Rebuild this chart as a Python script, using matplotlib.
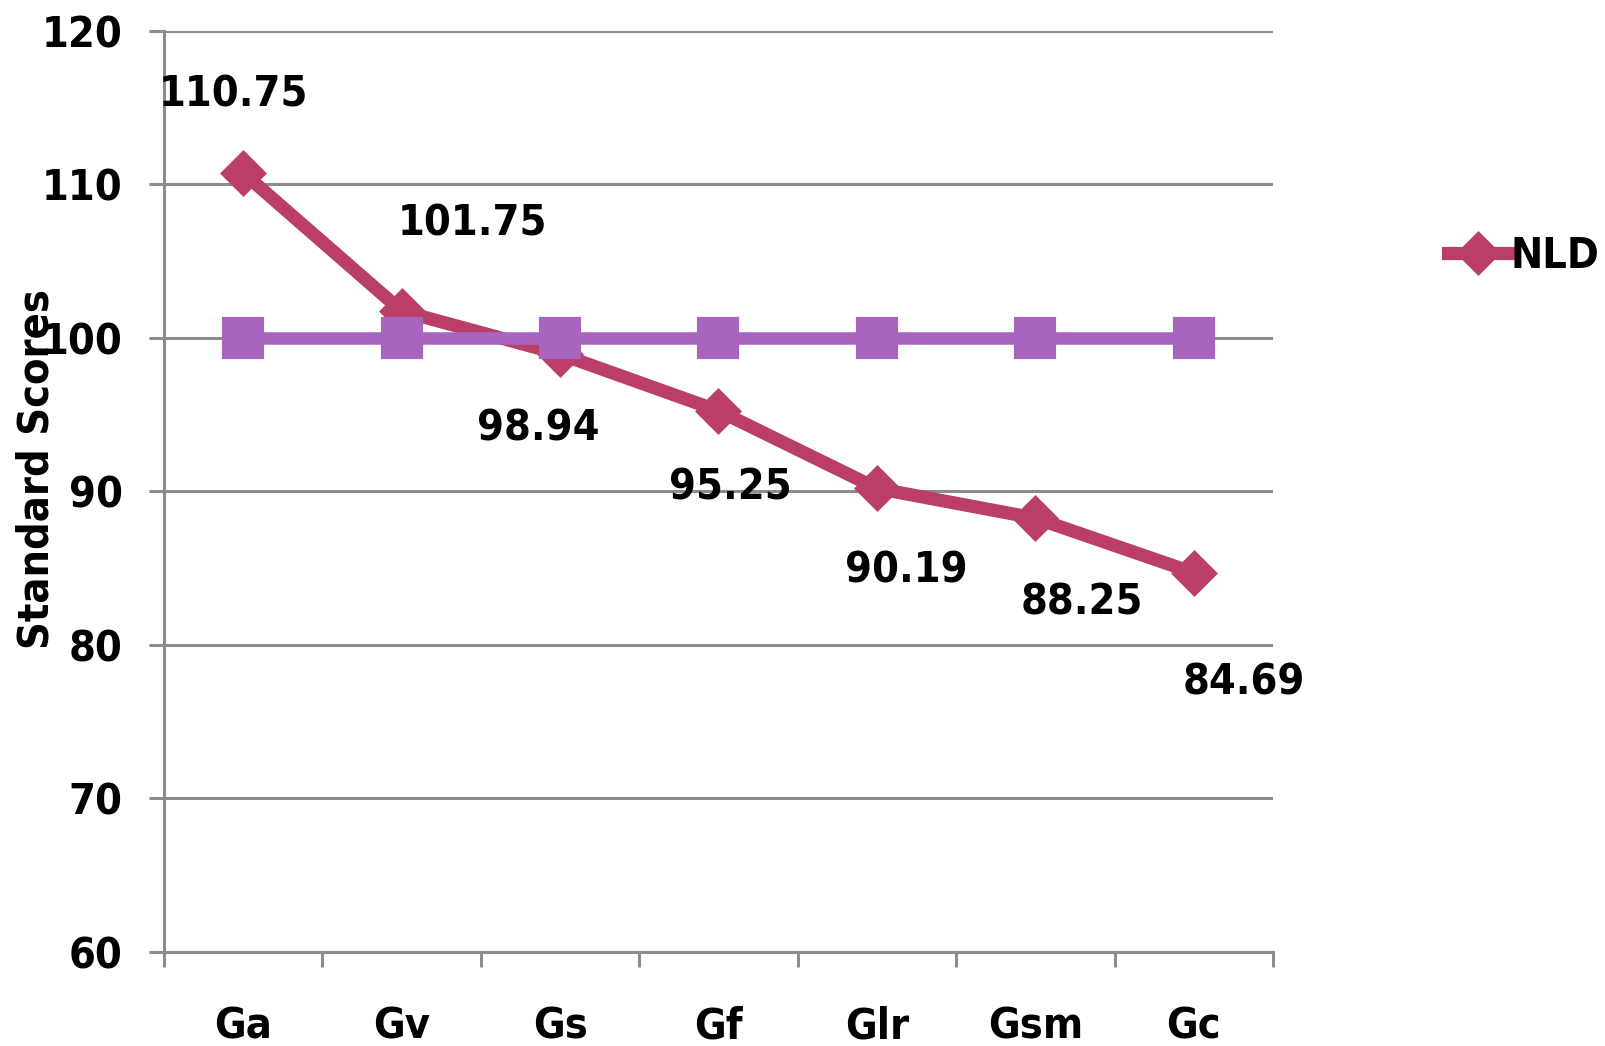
import numpy as np
import matplotlib
matplotlib.use("Agg")
import matplotlib.pyplot as plt
from matplotlib.ticker import FixedLocator, NullFormatter

# scores per ability
categories = ["Ga", "Gv", "Gs", "Gf", "Glr", "Gsm", "Gc"]
nld = [110.75, 101.75, 98.94, 95.25, 90.19, 88.25, 84.69]
norm = [100, 100, 100, 100, 100, 100, 100]

# hand placed label offsets (pixels, label baseline relative to point)
label_dx = [-10, 71, -22, 12, 29, 47, 50]
label_dy = [66, 76, -86, -89, -94, -96, -122]

plt.rcParams["font.family"] = "DejaVu Sans"
plt.rcParams["font.stretch"] = "condensed"
plt.rcParams["font.weight"] = "bold"
fs = 31

pink = "#ba3e69"
purple = "#a865bd"
grey = "#8c8c8c"

fig = plt.figure(figsize=(16.06, 10.46), dpi=100)
ax = fig.add_axes([164/1606, 1-951.6/1046, (1273-164)/1606, (951.6-31)/1046])

x = np.arange(len(categories)) + 0.5

ax.plot(x, nld, color=pink, lw=9.5, marker="D", ms=21, mew=2.5, mec=pink,
        solid_joinstyle="round", zorder=3, label="NLD")
ax.plot(x, norm, color=purple, lw=9, marker="s", ms=27, mew=3, mec=purple,
        solid_joinstyle="round", zorder=4)

for xi, v, dx, dy in zip(x, nld, label_dx, label_dy):
    ax.annotate("%.2f" % v, (xi, v), xytext=(dx, dy), textcoords="offset pixels",
                ha="center", va="baseline", fontsize=fs, fontweight="bold",
                annotation_clip=False, zorder=5)

ax.set_xlim(0, len(categories))
ax.set_ylim(60, 120)
ax.set_yticks(np.arange(60, 121, 10))
ax.tick_params(axis="y", direction="out", length=15/1.389, width=2.2, color=grey,
               pad=19, labelsize=fs)

ax.xaxis.set_major_locator(FixedLocator(np.arange(0, len(categories)+1)))
ax.xaxis.set_major_formatter(NullFormatter())
ax.xaxis.set_minor_locator(FixedLocator(x))
ax.set_xticklabels(categories, minor=True)
ax.tick_params(axis="x", which="major", direction="out", length=15/1.389,
               width=2.2, color=grey)
ax.tick_params(axis="x", which="minor", length=0, pad=39, labelsize=fs)

ax.grid(axis="y", color=grey, lw=2.2, zorder=0)
ax.set_axisbelow(True)
for s in ["top", "right"]:
    ax.spines[s].set_visible(False)
for s in ["left", "bottom"]:
    ax.spines[s].set_color(grey)
    ax.spines[s].set_linewidth(2.2)

fig.text(37/1606, 1-469/1046, "Standard Scores", rotation=90, ha="center",
         va="center", fontsize=fs, fontweight="bold")

ax.legend(loc="center left", bbox_to_anchor=(1448/1606, 1-256/1046),
          bbox_transform=fig.transFigure, frameon=False, fontsize=fs,
          handlelength=1.4, handletextpad=0.05, borderpad=0, borderaxespad=0,
          markerscale=0.95)

fig.savefig("out.png", dpi=100)
